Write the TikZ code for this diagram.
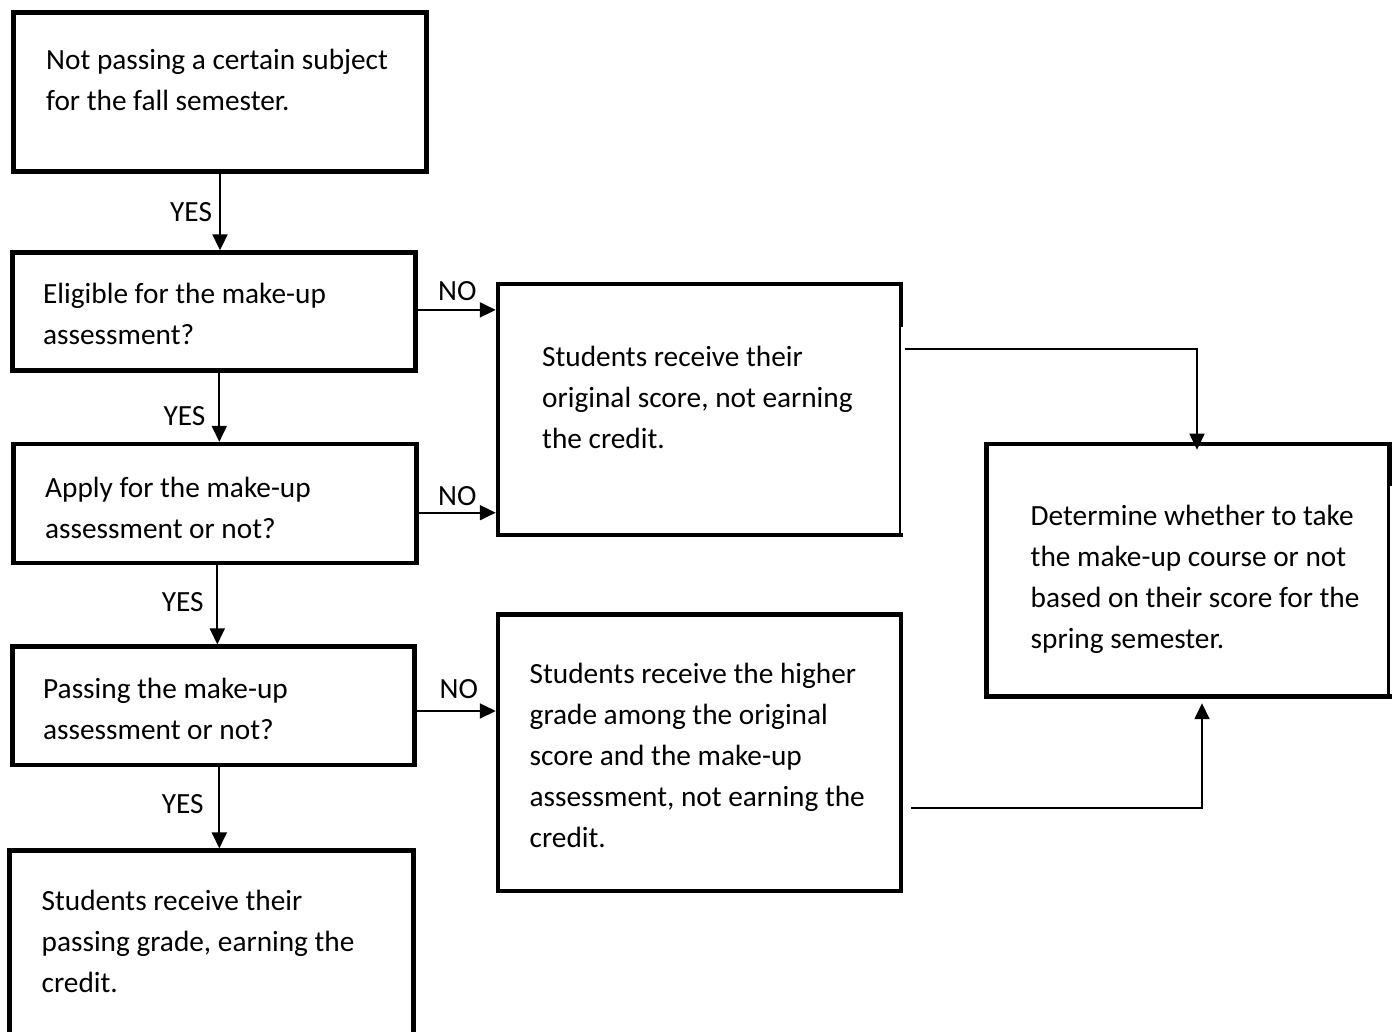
\documentclass[tikz,border=0pt]{standalone}
\usepackage{fontspec}
\setmainfont{Carlito}
\usetikzlibrary{arrows.meta,calc}
\tikzset{
  box/.style={draw, line width=4.5pt, rectangle, inner sep=0pt},
  txt/.style={inner sep=0pt, anchor=north west, align=left, font=\fontsize{29.3}{41}\selectfont},
  lab/.style={inner sep=0pt, anchor=base west, font=\fontsize{29.3}{41}\selectfont},
  arr/.style={line width=2pt, -{Triangle[length=16pt,width=15pt]}},
  conn/.style={line width=1.7pt, -{Triangle[length=16pt,width=15pt]}},
}
\newcommand{\fl}{\rule{0pt}{30pt}}
\begin{document}
\begin{tikzpicture}[x=1pt,y=-1pt]
\clip (0,0) rectangle (1397,1031);
\fill[white] (0,0) rectangle (1397,1031);
% boxes
\node[box, minimum width=413pt, minimum height=159pt] (b1) at (220,92) {};
\node[box, minimum width=402.7pt, minimum height=117.7pt] (b2) at (213.9,311.4) {};
\node[box, minimum width=403.4pt, minimum height=118.7pt] (b3) at (215,503.4) {};
\node[box, minimum width=402pt, minimum height=118.4pt] (b4) at (213.4,705.8) {};
\node[box, minimum width=404pt, minimum height=300pt] (b5) at (211.6,1000.6) {};
\node[box, minimum width=403pt, minimum height=251pt] (b6) at (699.5,409.5) {};
\node[box, minimum width=403.4pt, minimum height=252.7pt] (b7) at (1188,570.3) {};
\node[box, minimum width=403pt, minimum height=276.4pt] (b8) at (699.5,752.8) {};
% thinner lower part of two right edges
\draw[white, line width=2pt] ($(b6.north east)+(-0.8,45)$) -- ($(b6.south east)+(-0.8,-4.6)$);
\draw[white, line width=1.8pt] ($(b7.north east)+(-0.6,44)$) -- ($(b7.south east)+(-0.6,-4.6)$);
% texts
\node[txt] (t1) at (46,39) {\fl Not passing a certain subject\\for the fall semester.};
\node[txt] (t2) at (43,273.3) {\fl Eligible for the make-up\\assessment?};
\node[txt] (t3) at (45,467) {\fl Apply for the make-up\\assessment or not?};
\node[txt] (t4) at (43,668.3) {\fl Passing the make-up\\assessment or not?};
\node[txt] (t5) at (41.5,880) {\fl Students receive their\\passing grade, earning the\\credit.};
\node[txt] (t6) at (542,336.7) {\fl Students receive their\\original score, not earning\\the credit.};
\node[txt] (t7) at (1030.5,495) {\fl Determine whether to take\\the make-up course or not\\based on their score for the\\spring semester.};
\node[txt] (t8) at (529.5,653.3) {\fl Students receive the higher\\grade among the original\\score and the make-up\\assessment, not earning the\\credit.};
% vertical YES arrows
\draw[arr] (b1.south) -- (b2.north -| b1.south);
\draw[arr] ($(b2.south -| b1.south)+(-0.7,0)$) -- ($(b3.north -| b1.south)+(-0.7,0)$);
\draw[arr] ($(b3.south -| b1.south)+(-2.7,0)$) -- ($(b4.north -| b1.south)+(-2.7,0)$);
\draw[arr] ($(b4.south -| b1.south)+(-0.7,0)$) -- ($(b5.north -| b1.south)+(-0.7,0)$);
\node[lab] (y1) at (170,221.7) {YES};
\node[lab] (y2) at (163.3,425) {YES};
\node[lab] (y3) at (161.7,611.7) {YES};
\node[lab] (y4) at (161.7,813.3) {YES};
% horizontal NO arrows
\draw[arr] ($(b2.east)+(0,-1.5)$) -- ($(b6.west |- b2.east)+(0,-1.5)$);
\draw[arr] ($(b3.east)+(0,9.3)$) -- ($(b6.west |- b3.east)+(0,9.3)$);
\draw[arr] ($(b4.east)+(0,5.2)$) -- ($(b8.west |- b4.east)+(0,5.2)$);
\node[lab] (n1) at (438,300) {NO};
\node[lab] (n2) at (438,505) {NO};
\node[lab] (n3) at (439.5,698.3) {NO};
% connectors to right box
\draw[conn] ($(b6.north east)+(1.5,67.3)$) -| ($(b7.north)+(9,8)$);
\draw[conn] ($(b8.east)+(8,55)$) -| ($(b7.south)+(14,4.3)$);
\end{tikzpicture}
\end{document}
